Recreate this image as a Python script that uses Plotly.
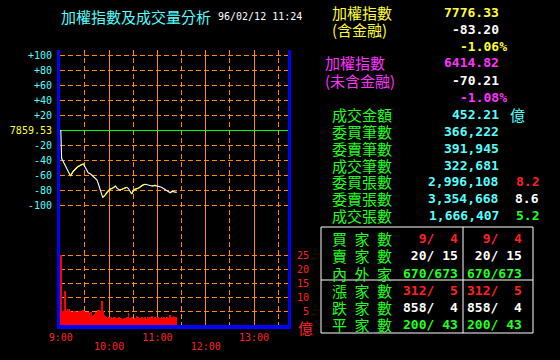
import plotly.graph_objects as go

# ---------------- data ----------------
prev_close = 7859.53
title_text = "加權指數及成交量分析"
stamp_text = "96/02/12 11:24"

# intraday change vs previous close (points), minutes after 9:00
line_min = [0, 1, 3, 6, 10, 12, 15, 18, 21, 25, 28, 31, 34, 37, 42, 45, 47, 50, 52, 55,
            58, 61, 64, 68, 70, 73, 76, 79, 82, 84, 86, 88, 90, 92, 96, 99, 102, 105, 109,
            113, 117, 121, 125, 129, 133, 136, 138, 141, 144]
line_chg = [0, -37.8, -42, -49, -57, -61.3, -55.6, -52.4, -49, -46.7, -45.3, -51, -57, -58.7,
            -63, -66.7, -73, -82, -89.8, -86.7, -82, -79, -77.8, -74.7, -77.8, -80, -79, -77.8,
            -76.4, -78, -82, -85.3, -81, -79, -77.8, -75.6, -73.3, -72.4, -73.8, -74.7, -73.8,
            -74.7, -76.4, -79, -81, -83.6, -81.8, -83, -83.2]

# per-minute turnover (億)
vol = [25.0, 4.9, 4.9, 5.0, 5.0, 12.3, 4.9, 4.9, 5.1, 5.8, 5.8, 5.0, 4.9, 4.7, 4.6, 4.7,
       5.0, 4.9, 5.0, 4.7, 4.6, 4.7, 5.0, 4.9, 5.0, 4.8, 5.0, 5.2, 5.3, 5.0, 4.6, 4.7,
       4.8, 4.6, 4.7, 4.4, 4.3, 4.6, 4.5, 3.3, 3.1, 3.4, 3.8, 4.2, 4.6, 4.8, 5.3, 5.4,
       5.1, 4.8, 5.0, 8.4, 4.9, 4.6, 3.6, 3.1, 3.0, 2.3, 2.2, 2.4, 2.9, 2.8, 3.0, 2.7,
       2.6, 2.5, 2.7, 2.4, 2.8, 2.6, 2.3, 2.6, 2.9, 2.5, 2.4, 2.4, 2.0, 2.3, 2.6, 2.2,
       2.5, 2.2, 2.7, 3.0, 4.4, 2.6, 2.3, 2.6, 2.9, 2.4, 2.0, 2.2, 2.4, 2.3, 2.9, 3.2,
       2.8, 2.4, 2.2, 2.3, 2.6, 2.8, 2.4, 2.3, 2.6, 2.9, 2.3, 2.2, 2.7, 2.4, 2.6, 2.9,
       2.5, 3.3, 2.6, 2.3, 2.4, 2.8, 2.6, 2.4, 2.7, 2.9, 2.5, 2.2, 2.6, 2.8, 2.5, 2.4,
       2.9, 2.6, 2.2, 2.4, 2.7, 2.3, 2.6, 2.8, 3.4, 2.7, 2.4, 2.9, 3.2, 2.6, 2.9, 2.7]
vol_min = list(range(len(vol)))
vol_unit = "億"

# axes ticks
chg_ticks = [100, 80, 60, 40, 20, 0, -20, -40, -60, -80, -100]
vol_ticks = [5, 10, 15, 20, 25]
time_major = [0, 120, 240]
time_major_lbl = ["9:00", "11:00", "13:00"]
time_minor = [60, 180]
time_minor_lbl = ["10:00", "12:00"]
half_hours = [30, 90, 150, 210, 270]

# info panel
idx_names = ["加權指數", "(含金融)", "加權指數", "(未含金融)"]
idx_value = [7776.33, 6414.82]
idx_chg = [-83.20, -70.21]
idx_pct = [-1.06, -1.08]
stat_names = ["成交金額", "委買筆數", "委賣筆數", "成交筆數", "委買張數", "委賣張數", "成交張數"]
turnover = 452.21
stat_values = [366222, 391945, 322681, 2996108, 3354668, 1666407]
lot_ratio = [8.2, 8.6, 5.2]

tbl_names = ["買家數", "賣家數", "內外家", "漲家數", "跌家數", "平家數"]
tbl_col1 = [(9, 4), (20, 15), (670, 673), (312, 5), (858, 4), (200, 43)]
tbl_col2 = [(9, 4), (20, 15), (670, 673), (312, 5), (858, 4), (200, 43)]
tbl_colors = ["#ff2020", "#ffffff", "#20ff20", "#ff2020", "#ffffff", "#20ff20"]

# ---------------- style ----------------
W, H = 560, 360
PL, PR, PT, PB = 60, 288, 50, 325
PXMIN = 0.805
X0 = -1.0
X1 = X0 + (PR - PL) / PXMIN

CYAN = "#55ffff"
YEL = "#ffff33"
MAG = "#ff33ff"
GRN = "#20ff20"
RED = "#ff2020"
WHT = "#ffffff"
ORG = "#ff8c00"
BLU = "#0000ff"
MONO = "DejaVu Sans Mono"
CJK = "Noto Sans CJK TC"
NB = "\u00a0"


def P(x, y):
    return (x - PL) / (PR - PL), (PB - y) / (PB - PT)


fig = go.Figure()

fig.add_trace(go.Bar(x=vol_min, y=vol, yaxis="y2", width=1.0,
                     marker=dict(color="#ff0000", line=dict(width=0)), hoverinfo="skip"))

# white line (whole), yellow overlay on rising segments
fig.add_trace(go.Scatter(x=line_min, y=line_chg, mode="lines",
                         line=dict(color=WHT, width=1.1), hoverinfo="skip"))
yx, yy = [], []
for i in range(1, len(line_chg)):
    if line_chg[i] > line_chg[i - 1]:
        yx += [line_min[i - 1], line_min[i], None]
        yy += [line_chg[i - 1], line_chg[i], None]
fig.add_trace(go.Scatter(x=yx, y=yy, mode="lines", connectgaps=False,
                         line=dict(color=YEL, width=1.1), hoverinfo="skip"))
# empty trace so the second (half-row) time axis gets drawn
fig.add_trace(go.Scatter(x=[None], y=[None], xaxis="x2", yaxis="y", mode="lines",
                         hoverinfo="skip"))

chg_text = []
for v in chg_ticks:
    if v == 0:
        chg_text.append('<span style="color:%s">%.2f</span>' % (YEL, prev_close))
    elif v > 0:
        chg_text.append("+%d" % v)
    else:
        chg_text.append("-%d" % (-v))

vol_text = [("%2d" % v).replace(" ", NB) for v in vol_ticks]

dash = "5px,3px"
fig.update_layout(
    width=W, height=H, autosize=False,
    margin=dict(l=PL, r=W - PR, t=PT, b=H - PB, pad=0, autoexpand=False),
    paper_bgcolor="black", plot_bgcolor="black",
    showlegend=False, bargap=0,
    xaxis=dict(range=[X0, X1], tickmode="array", tickvals=time_major + time_minor,
               ticktext=time_major_lbl + [""] * len(time_minor),
               showgrid=True, gridcolor=ORG, gridwidth=1,
               minor=dict(tickmode="array", tickvals=half_hours, showgrid=True,
                          gridcolor=ORG, griddash=dash, gridwidth=1, ticks=""),
               showline=True, linecolor=BLU, linewidth=4, ticks="", automargin=False,
               zeroline=False, tickfont=dict(family=MONO, size=10, color=RED),
               ticklabelstandoff=0, fixedrange=True),
    xaxis2=dict(range=[X0, X1], overlaying="x", anchor="y", side="bottom",
                tickmode="array", tickvals=time_minor, ticktext=time_minor_lbl,
                showgrid=False, showline=False, ticks="", zeroline=False, automargin=False,
                tickfont=dict(family=MONO, size=10, color=RED),
                ticklabelstandoff=14, fixedrange=True),
    yaxis=dict(range=[-260, 320 / 3], tickmode="array", tickvals=chg_ticks, ticktext=chg_text,
               showgrid=True, gridcolor=ORG, griddash=dash, gridwidth=1,
               zeroline=True, zerolinecolor="#00ff00", zerolinewidth=1, automargin=False,
               showline=True, mirror=True, linecolor=BLU, linewidth=3, ticks="",
               tickfont=dict(family=MONO, size=10, color=CYAN), ticklabelstandoff=3,
               fixedrange=True),
    yaxis2=dict(range=[0, 275 / 2.8], overlaying="y", side="right", anchor="x",
                tickmode="array", tickvals=vol_ticks, ticktext=vol_text, automargin=False,
                showgrid=True, gridcolor=ORG, griddash=dash, gridwidth=1,
                zeroline=False, showline=False, ticks="",
                tickfont=dict(family=MONO, size=10, color=RED), ticklabelstandoff=8,
                fixedrange=True),
)

ann = []


def text(x, y, s, color, size, family, anchor="left", bold=False):
    px, py = P(x, y)
    if bold:
        s = "<b>" + s + "</b>"
    ann.append(dict(x=px, y=py, xref="paper", yref="paper", text=s, showarrow=False,
                    xanchor=anchor, yanchor="middle", borderpad=0,
                    font=dict(color=color, size=size, family=family)))


text(60, 17, title_text, CYAN, 15, CJK)
text(217, 17, stamp_text, WHT, 10, MONO)
text(297, 327, vol_unit, RED, 15, CJK)

# index block
text(331, 12, idx_names[0], YEL, 15, CJK)
text(331, 29.5, idx_names[1], YEL, 15, CJK)
text(324, 62.5, idx_names[2], MAG, 15, CJK)
text(324, 80, idx_names[3], MAG, 15, CJK)
text(500, 12.5, "%.2f" % idx_value[0], YEL, 13, MONO, "right", True)
text(500, 30, "%.2f" % idx_chg[0], WHT, 13, MONO, "right", True)
text(508, 47, "%.2f%%" % idx_pct[0], YEL, 13, MONO, "right", True)
text(500, 63, "%.2f" % idx_value[1], MAG, 13, MONO, "right", True)
text(500, 80, "%.2f" % idx_chg[1], WHT, 13, MONO, "right", True)
text(508, 97.5, "%.2f%%" % idx_pct[1], MAG, 13, MONO, "right", True)

stat_y = [115, 131.5, 148.5, 165, 181.5, 198, 215]
for name, y in zip(stat_names, stat_y):
    text(331, y, name, GRN, 15, CJK)
text(500, stat_y[0], "%.2f" % turnover, CYAN, 13, MONO, "right", True)
text(509, stat_y[0], vol_unit, CYAN, 15, CJK)
for v, y in zip(stat_values, stat_y[1:]):
    text(500, y, "{:,}".format(v), CYAN, 13, MONO, "right", True)
for v, y, c in zip(lot_ratio, stat_y[4:], [RED, WHT, GRN]):
    text(540, y, "%.1f" % v, c, 13, MONO, "right", True)

# table
row_y = [238, 255.5, 273, 290.5, 307.5, 324]
for name, y, a, b, c in zip(tbl_names, row_y, tbl_col1, tbl_col2, tbl_colors):
    text(331, y, "\u2002".join(name), GRN, 15, CJK)
    text(459, y, ("%3d/%3d" % a).replace(" ", NB), c, 13, MONO, "right", True)
    text(523, y, ("%3d/%3d" % b).replace(" ", NB), c, 13, MONO, "right", True)

fig.update_layout(annotations=ann)

shapes = []
for (x0, y0, x1, y1) in [(321, 227, 533, 227), (321, 333, 533, 333), (321, 227, 321, 333),
                         (533, 227, 533, 333), (463, 227, 463, 333), (321, 280, 533, 280)]:
    a0, b0 = P(x0, y0)
    a1, b1 = P(x1, y1)
    shapes.append(dict(type="line", xref="paper", yref="paper", x0=a0, y0=b0, x1=a1, y1=b1,
                       line=dict(color=WHT, width=1)))
fig.update_layout(shapes=shapes)

fig.write_html("out.html", config={"displayModeBar": False},
               post_script="document.body.style.margin='0';document.body.style.background='black';")
